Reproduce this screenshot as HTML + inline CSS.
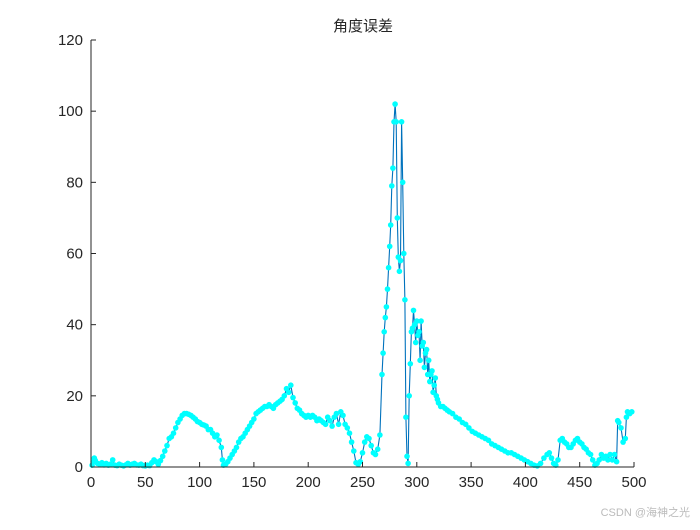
<!DOCTYPE html>
<html><head><meta charset="utf-8"><style>
html,body{margin:0;padding:0;background:#fff;}
svg text{font-family:"Liberation Sans","Noto Sans CJK SC",sans-serif;}
</style></head><body>
<svg width="700" height="525" viewBox="0 0 700 525" id="chart">
<text x="363" y="31" font-size="15" text-anchor="middle" fill="#262626">角度误差</text>
<g id="plot"></g>
<g id="axes"></g>
<text x="690" y="516" font-size="11" text-anchor="end" fill="#bbb">CSDN @海神之光</text>
</svg>
<script>
const xTicks=[0,50,100,150,200,250,300,350,400,450,500];
const yTicks=[0,20,40,60,80,100,120];
const xs=[1,2,3,4,6,8,10,12,14,16,18,20,22,24,26,28,30,32,34,36,38,40,42,44,46,48,50,52,54,56,58,60,62,64,66,68,70,72,74,76,78,80,82,84,86,88,90,92,94,96,98,100,102,104,106,108,110,112,114,116,118,120,121,122,124,126,128,130,132,134,136,138,140,142,144,146,148,150,152,154,156,158,160,162,164,166,168,170,172,174,176,178,180,182,184,186,188,190,192,194,196,198,200,202,204,206,208,210,212,214,216,218,220,222,224,226,228,230,232,234,236,238,240,242,244,246,248,250,252,254,256,258,260,262,264,266,268,269,270,271,272,273,274,275,276,277,278,279,280,281,282,283,284,285,286,287,288,289,290,291,292,293,294,295,296,297,298,299,300,301,302,303,304,305,306,307,308,309,310,311,312,313,314,315,316,317,318,319,320,322,324,326,328,330,333,336,339,342,345,348,351,354,357,360,363,366,369,372,375,378,381,384,387,390,393,396,399,402,405,408,411,414,417,420,422,424,426,428,430,432,434,436,438,440,442,444,446,448,450,452,454,456,458,460,462,464,466,468,470,472,474,476,478,480,482,484,485,486,488,490,492,493,494,496,498,500];
const ys=[0.5,1.5,2.5,1.8,1,0.8,1.2,0.6,1,0.5,0.8,2,0.5,0.4,0.8,0.5,0.3,0.6,1,0.5,0.8,1,0.6,0.5,0.8,0.4,0.3,0.5,0.4,1.2,2,1.5,0.8,1.8,3,4.5,6,8,8.5,9.5,11,12.5,13.5,14.5,15,15,14.8,14.5,14,13.5,12.8,12.5,12,11.8,11.5,10.5,10.5,9.5,8.5,9,7.5,5.5,2,0.5,0.8,1.5,2.5,3.5,4.5,5.5,7,8,8.5,9.5,10.5,11.5,12.5,13.5,15,15.5,16,16.5,17,17,17.5,17,16.5,17.5,18,18.5,19,20,22,21,23,19.5,18,16.5,16,15,14.5,14,14.5,14,14.5,14,13,13.5,13,12.5,12,14,13,11.5,14,15,12,15.5,14.5,12,11,9.5,7,4.5,1.2,0.8,1.5,4,7,8.5,8,6,4,3.5,5,9,26,32,38,42,45,50,56,62,68,79,84,97,102,97,70,59,55,58,97,80,60,47,14,3,1,20,29,38,39,44,40,35,41,37,38,30,41,34,35,28,32,33,26,30,24,26,27,21,23,25,20,19,18,17,17,16.5,16,15.5,15,14,13.5,12.5,12,11,10,9.5,9,8.5,8,7.5,6.5,6,5.5,5,4.5,4,4,3.5,3,2.5,2,1.5,1,0.5,0.3,1,2.5,3.5,4,2.5,1,0.5,2,7.5,8,7,6.5,5.5,5.5,6.5,7.5,8,7,6.5,5.5,5,4,3.5,2,0.5,1,2,3.5,2.5,3,2,3.5,2,3.5,1.5,13,12.5,11,7,8,14,15.5,15,15.5];
const X0=91,X1=634,Y0=467,Y1=40;
const sx=v=>X0+(v-0)/(500-0)*(X1-X0);
const sy=v=>Y0-(v-0)/(120-0)*(Y0-Y1);
const NS='http://www.w3.org/2000/svg';
const plot=document.getElementById('plot'),axes=document.getElementById('axes');
function mk(t,a,p){const e=document.createElementNS(NS,t);for(const k in a)e.setAttribute(k,a[k]);p.appendChild(e);return e;}
const n=Math.min(xs.length,ys.length);
let d='';for(let i=0;i<n;i++){d+=(i?'L':'M')+sx(xs[i]).toFixed(1)+','+sy(ys[i]).toFixed(1);}
const line=mk('path',{d:d,fill:'none',stroke:'#0072BD','stroke-width':1.1},plot);


for(let i=0;i<n;i++){const c=mk('circle',{cx:sx(xs[i]).toFixed(1),cy:sy(ys[i]).toFixed(1),r:2.8,fill:'#00FFFF'},plot);

}
mk('line',{x1:X0,y1:Y0,x2:X1,y2:Y0,stroke:'#262626','stroke-width':1},axes);
mk('line',{x1:X0,y1:Y0,x2:X0,y2:Y1,stroke:'#262626','stroke-width':1},axes);
xTicks.forEach(v=>{const x=sx(v);mk('line',{x1:x,y1:Y0,x2:x,y2:Y0-5,stroke:'#262626'},axes);
const t=mk('text',{x:x,y:Y0+20,'font-size':15,'text-anchor':'middle',fill:'#262626'},axes);t.textContent=v;

});
yTicks.forEach(v=>{const y=sy(v);mk('line',{x1:X0,y1:y,x2:X0+5,y2:y,stroke:'#262626'},axes);
const t=mk('text',{x:X0-8,y:y+5,'font-size':15,'text-anchor':'end',fill:'#262626'},axes);t.textContent=v;

});
</script>
</body></html>
